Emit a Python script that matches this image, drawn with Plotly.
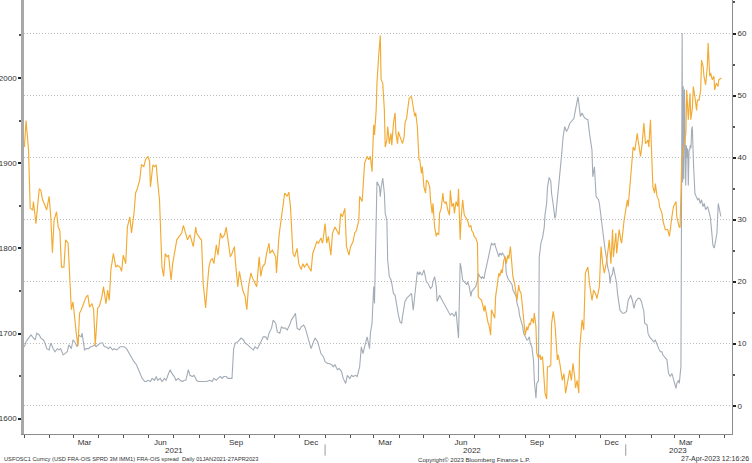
import pandas as pd
import plotly.graph_objects as go

START = pd.Timestamp("2021-01-01")

# gold (left axis) - day offset from 01JAN2021 and price
gold_day = [
    0, 2, 5, 7, 10, 11, 14, 15, 18, 20,
    22, 24, 27, 30, 32, 34, 36, 39, 41, 43,
    45, 48, 50, 53, 55, 57, 59, 61, 63, 65,
    67, 69, 72, 75, 77, 79, 82, 84, 86, 89,
    91, 94, 96, 99, 101, 103, 105, 108, 111, 113,
    116, 118, 120, 123, 125, 128, 130, 133, 135, 137,
    140, 142, 145, 147, 150, 152, 153, 156, 158, 160,
    162, 164, 167, 169, 171, 173, 175, 178, 180, 183,
    185, 188, 191, 193, 196, 198, 201, 203, 205, 208,
    209,
    213, 215, 217, 220, 222, 224, 226, 228, 230, 233,
    235, 238, 240, 243, 245, 247, 250, 252, 255, 256,
    259, 261, 264, 265, 268, 270, 272, 275, 277, 280,
    282, 285, 287, 289, 292, 294, 297, 298, 301, 303,
    305, 306, 309, 311, 314, 316, 319, 321, 323, 326,
    328, 331, 333, 336, 338, 340, 343, 345, 348, 350,
    352, 355, 357, 360, 362, 365, 367, 369, 372, 374,
    377, 379, 382, 384, 386, 389, 391, 394, 396, 399,
    401, 403, 406, 407, 410, 411, 413, 416, 418, 420,
    422, 424, 425, 427, 428, 430, 432,
    433, 435, 437, 438, 440, 441, 443, 445, 446, 448,
    450, 451, 453, 454, 456, 458, 459, 461, 462, 464,
    466, 467, 469, 470, 472, 474, 475, 477, 479, 480,
    482, 483, 485, 487, 488, 490, 492, 493, 495, 496,
    498, 500, 501, 503, 504, 506, 508, 509, 511, 512,
    514, 516, 517, 519, 521, 522, 524, 526, 527, 529,
    530, 532, 534, 535, 537, 538, 540, 542, 543, 545,
    546, 548, 550, 551, 553, 555, 556, 558, 559, 561,
    563, 564, 566, 567, 569, 571, 572, 574, 576, 577,
    579, 580, 582, 584, 585, 587, 588, 590, 592, 593,
    595, 597, 598, 600, 601, 603, 605, 606, 608, 610,
    611, 613, 614, 616, 618, 619, 621, 622, 624, 626,
    627, 629, 631, 632, 634, 635, 637, 639, 640, 642,
    644, 645, 647, 648, 650,
    653, 655, 657, 660, 662, 664, 666, 668, 669, 671,
    673, 674, 677, 679, 681, 684, 686, 689, 691, 694,
    695, 698, 700, 702, 704, 707, 709, 710, 712, 714,
    715, 718, 719, 722, 724, 725, 728, 730, 732, 733,
    735, 736, 739, 741, 744, 745, 748, 750, 752, 754,
    757, 758, 760, 761, 763, 765, 766, 768, 770, 771,
    774, 775, 778, 781, 783, 786, 788, 791, 792, 795,
    796, 798, 800, 801, 803, 804, 806, 808, 809, 811,
    812, 814, 816, 817, 819, 821, 822, 824, 825, 827,
    829, 830, 832, 833, 835, 837, 838, 840, 842, 843,
    846,
]
gold_px = [
    1919, 1950, 1915, 1847, 1845, 1855, 1829, 1841, 1870, 1868,
    1857, 1853, 1845, 1861, 1837, 1795, 1833, 1843, 1825, 1821,
    1778, 1778, 1810, 1806, 1767, 1728, 1737, 1716, 1700, 1685,
    1724, 1728, 1735, 1743, 1745, 1731, 1735, 1728, 1686, 1730,
    1732, 1743, 1755, 1735, 1751, 1739, 1775, 1794, 1778, 1780,
    1778, 1773, 1792, 1782, 1825, 1837, 1818, 1841, 1865, 1870,
    1880, 1898, 1896, 1904, 1908, 1902, 1872, 1898, 1896, 1898,
    1876, 1857, 1778, 1767, 1794, 1790, 1792, 1763, 1782, 1800,
    1810, 1814, 1818, 1827, 1818, 1810, 1816, 1810, 1802, 1825,
    1818,
    1812, 1810, 1759, 1730, 1755, 1778, 1786, 1788, 1782, 1804,
    1792, 1818, 1812, 1816, 1825, 1810, 1790, 1794, 1802, 1786,
    1755, 1773, 1755, 1751, 1743, 1728, 1755, 1771, 1765, 1759,
    1755, 1790, 1767, 1778, 1782, 1794, 1806, 1794, 1798, 1794,
    1790, 1771, 1814, 1829, 1849, 1865, 1861, 1866, 1849, 1794,
    1790, 1800, 1782, 1775, 1782, 1778, 1782, 1778, 1773, 1794,
    1800, 1808, 1806, 1812, 1806, 1829, 1806, 1814, 1792, 1818,
    1825, 1821, 1816, 1841, 1837, 1847, 1802, 1792, 1802, 1808,
    1818, 1821, 1833, 1861, 1855, 1870, 1900, 1908, 1904, 1908,
    1890, 1945, 1933, 1962, 1994, 2025, 2050,
    1998, 1994, 1962, 1919, 1927, 1943, 1923, 1935, 1921, 1947,
    1959, 1935, 1923, 1937, 1931, 1927, 1923, 1931, 1947, 1953,
    1966, 1976, 1978, 1978, 1966, 1955, 1959, 1943, 1904, 1904,
    1888, 1896, 1872, 1865, 1880, 1878, 1872, 1857, 1841, 1853,
    1825, 1814, 1818, 1816, 1841, 1847, 1865, 1855, 1853, 1855,
    1845, 1839, 1868, 1849, 1853, 1841, 1855, 1849, 1870, 1810,
    1833, 1857, 1839, 1837, 1835, 1833, 1825, 1827, 1821, 1818,
    1814, 1812, 1806, 1743, 1741, 1739, 1735, 1726, 1733, 1720,
    1712, 1710, 1698, 1728, 1722, 1718, 1743, 1755, 1771, 1767,
    1775, 1771, 1786, 1790, 1782, 1792, 1788, 1802, 1778, 1767,
    1759, 1747, 1739, 1757, 1751, 1747, 1726, 1724, 1698, 1708,
    1704, 1712, 1710, 1718, 1712, 1724, 1708, 1677, 1671, 1675,
    1669, 1673, 1649, 1630, 1623, 1661, 1661, 1663, 1712, 1726,
    1712, 1692, 1669, 1675, 1665,
    1645, 1653, 1630, 1649, 1657, 1645, 1665, 1649, 1636, 1645,
    1630, 1681, 1716, 1704, 1771, 1778, 1759, 1739, 1751, 1745,
    1741, 1755, 1802, 1782, 1771, 1786, 1802, 1810, 1782, 1822,
    1790, 1818, 1794, 1822, 1810, 1806, 1833, 1845, 1857, 1849,
    1872, 1880, 1919, 1915, 1935, 1927, 1908, 1923, 1947, 1923,
    1927, 1919, 1951, 1923, 1872, 1865, 1876, 1861, 1857, 1849,
    1841, 1833, 1822, 1822, 1814, 1837, 1849, 1855, 1837, 1825,
    1825, 1904, 1915, 1923, 1935, 1986, 1951, 1982, 1951, 1966,
    1990, 1978, 1962, 1974, 1974, 1986, 2021, 2013, 2002, 1992,
    2013, 2041, 2002, 2006, 1998, 2002, 1986, 1994, 1990, 1998,
    2000,
]

# FRA-OIS spread (right axis, bp)
fra_day = [
    0, 2, 5, 8, 11, 13, 15, 18, 20, 23,
    25, 27, 30, 32, 35, 37, 40, 42, 44, 47,
    49, 52, 54, 57, 59, 61, 64, 66, 69, 70,
    73, 75, 78, 80, 82, 85, 87, 90, 92, 95,
    97, 99, 102, 104, 107, 109, 112, 114, 116, 119,
    121, 124, 126, 129, 131, 133, 136, 138, 141, 143,
    146, 148, 150, 153, 155, 158, 160, 162, 165, 167,
    170, 172, 175, 177, 179, 182, 184, 187, 189, 192,
    194, 196, 199, 201, 204, 206, 209, 211, 213,
    217, 221, 225, 228, 230, 233, 235, 238, 240, 242,
    245, 247, 250, 252, 254, 256, 259, 261, 263, 266,
    268, 271, 273, 276, 278, 280, 283, 285, 288, 290,
    293, 295, 297, 300, 302, 305, 307, 310, 312, 314,
    317, 319, 322, 324, 327, 329, 331, 334, 336, 339,
    341, 344, 346, 348, 351, 353, 356, 358, 360, 363,
    365, 368, 370, 373, 375, 377, 380, 382, 385, 387,
    390, 392, 395, 397, 399, 402, 404, 407, 409, 411,
    414, 416, 419, 420, 422, 424, 425, 427, 428, 431,
    432, 433, 435, 437, 438, 440, 441, 443, 445, 446,
    448, 450, 451, 453, 454, 456, 458, 459, 461, 462,
    464, 466, 467, 469, 470, 472, 474, 475, 477, 479,
    480, 482, 483, 485, 487, 488, 490, 492, 493, 495,
    496, 498, 500, 501, 503, 504, 506, 508, 509, 511,
    512, 514, 516, 517, 519, 521, 522, 524, 526, 527,
    529, 530, 532, 534, 535, 537, 538, 540, 542, 543,
    545, 546, 548, 550, 551, 553, 555, 556, 558, 559,
    561, 563, 564, 566, 567, 569, 571, 572, 574, 576,
    577, 579, 580, 582, 584, 585, 587, 588, 590, 592,
    593, 595, 597, 598, 600, 601, 603, 605, 606, 608,
    610, 611, 613, 614, 616, 618, 619, 621, 622, 624,
    625, 626, 627, 629, 631, 632, 634, 635, 637, 639,
    640, 642, 644, 645, 647, 648, 650,
    652, 654, 656, 658, 660, 662, 664, 667, 669, 672,
    673, 675, 677, 679, 681, 684, 686, 689, 690, 692,
    694, 697, 698, 700, 702, 703, 705, 707, 708, 710,
    711, 712, 714, 715, 717, 719, 720, 722, 723, 726,
    728, 731, 733, 736, 738, 740, 742, 745, 747, 749,
    752, 753, 756, 757, 759, 762, 764, 766, 768, 770,
    772, 774, 775, 778, 780, 782, 784, 786, 789, 791,
    792, 794, 795, 797, 798.5, 799, 799.8, 800.5, 801.3, 802,
    802.8, 803.6, 804.4, 805.2, 806, 806.8, 807.6, 808.4, 809.2, 810,
    810.8, 812.4, 814, 815.6, 817.2, 818.9, 820.5, 822.1, 823.7, 825.3,
    826.9, 829.4, 831, 832.6, 834.2, 835.8, 837.5, 839.1, 840.7, 842.3,
    843.9, 845.5,
]
fra_bp = [
    9.5, 10.3, 10.9, 11.4, 10.9, 10.6, 11.7, 11.4, 10.9, 10.6,
    10.1, 9.2, 9.0, 10.1, 9.2, 8.7, 9.2, 9.0, 9.2, 8.2,
    8.4, 8.7, 9.8, 9.2, 10.6, 10.3, 9.5, 11.4, 11.1, 11.7,
    9.0, 9.2, 9.2, 9.5, 9.5, 9.8, 9.5, 9.8, 10.1, 10.1,
    9.5, 9.5, 9.2, 9.5, 9.0, 9.2, 9.0, 9.2, 9.5, 9.5,
    9.5, 9.2, 8.7, 8.2, 7.6, 7.1, 6.6, 6.0, 5.2, 4.4,
    3.9, 3.9, 4.1, 3.9, 4.4, 4.1, 4.7, 4.1, 4.4, 3.9,
    4.4, 4.1, 5.2, 5.8, 5.2, 4.7, 4.1, 4.4, 4.1, 3.9,
    4.1, 4.1, 5.8, 4.9, 4.7, 4.9, 4.1, 3.9, 3.9,
    3.9, 3.9, 4.1, 3.9, 4.4, 4.1, 4.4, 4.7, 4.4, 4.7,
    4.7, 4.4, 4.4, 4.4, 9.2, 10.1, 10.3, 10.6, 10.9, 10.6,
    10.1, 9.8, 9.5, 9.2, 9.0, 9.5, 9.2, 9.8, 10.6, 11.1,
    11.1, 10.6, 11.7, 12.5, 13.8, 13.3, 11.9, 11.7, 12.7, 12.5,
    12.5, 12.2, 13.0, 13.8, 14.4, 14.9, 12.5, 12.2, 12.7, 13.0,
    12.5, 11.1, 10.1, 9.2, 10.3, 10.9, 10.3, 9.2, 8.4, 7.9,
    7.1, 6.8, 6.8, 6.6, 6.3, 6.6, 5.8, 6.0, 5.5, 4.4,
    3.6, 4.9, 4.4, 4.9, 4.7, 4.9, 4.7, 6.3, 9.5, 8.4,
    10.1, 11.1, 9.2, 11.7, 13.3, 19.2, 16.5, 27.8, 36.1, 35.3,
    33.7, 35.1, 36.7, 34.2, 31.0, 29.9, 23.5, 20.8, 20.3, 19.7,
    18.1, 17.8, 16.8, 15.4, 14.6, 13.5, 13.3, 14.4, 16.0, 16.8,
    17.3, 17.6, 17.8, 18.1, 18.1, 15.4, 17.6, 19.2, 21.6, 21.1,
    21.6, 21.1, 21.1, 21.9, 20.5, 20.0, 19.7, 19.2, 18.9, 19.2,
    20.0, 20.8, 19.2, 16.8, 17.3, 17.8, 17.3, 16.8, 16.5, 16.0,
    15.7, 15.2, 14.9, 14.6, 14.9, 14.4, 14.4, 15.2, 12.7, 10.9,
    23.0, 22.4, 20.3, 20.0, 19.7, 19.5, 20.0, 19.2, 17.6, 18.4,
    18.7, 18.9, 19.2, 20.3, 21.3, 20.8, 20.5, 20.8, 20.5, 21.3,
    22.4, 23.5, 24.3, 25.4, 26.2, 25.9, 26.2, 25.6, 24.6, 24.0,
    24.6, 24.3, 24.6, 24.3, 23.5, 21.3, 20.5, 20.3, 20.0, 19.5,
    18.7, 18.1, 17.6, 16.5, 15.7, 14.6, 13.8, 12.7, 11.7, 11.1,
    10.6, 10.6, 11.1, 10.1, 9.5, 7.4, 4.1, 1.2, 3.6, 4.0,
    24.0, 25.0, 26.2, 27.1, 28.7, 30.8, 32.6, 35.2, 36.8, 36.2,
    34.2, 32.4, 30.2, 30.6, 33.2, 35.0, 36.5,
    40.2, 43.4, 45.0, 44.2, 44.7, 45.5, 45.8, 46.3, 47.7, 49.8,
    48.8, 46.6, 47.2, 46.6, 46.3, 46.1, 43.9, 41.2, 36.9, 38.5,
    33.7, 33.2, 32.6, 30.5, 28.3, 26.7, 25.1, 23.5, 22.4, 21.3,
    19.7, 20.8, 21.3, 22.4, 20.8, 19.7, 18.1, 16.5, 15.4, 14.9,
    14.9, 15.2, 17.0, 17.8, 17.0, 15.7, 16.8, 17.3, 17.3, 16.8,
    15.2, 13.3, 13.0, 11.7, 11.1, 10.6, 10.3, 10.6, 9.8, 9.2,
    8.7, 8.7, 8.2, 7.6, 7.4, 5.2, 4.7, 5.2, 3.6, 2.8,
    3.6, 4.1, 3.6, 6.3, 60.1, 36.0, 51.5, 36.5, 51.0, 40.0,
    35.5, 42.0, 40.0, 41.5, 35.5, 41.0, 41.2, 42.0, 41.5, 44.5,
    45.0, 38.5, 34.2, 33.7, 33.2, 33.4, 32.6, 33.2, 32.1, 32.6,
    31.6, 32.1, 31.0, 30.5, 28.3, 25.9, 25.4, 26.7, 27.8, 32.6,
    31.3, 30.5,
]

assert len(gold_day) == len(gold_px), (len(gold_day), len(gold_px))
assert len(fra_day) == len(fra_bp), (len(fra_day), len(fra_bp))

# x-axis labels (mid-month) and year labels
month_ticks = ["2021-03-15", "2021-06-15", "2021-09-15", "2021-12-15",
               "2022-03-15", "2022-06-15", "2022-09-15", "2022-12-15",
               "2023-03-15"]
month_text = ["Mar", "Jun", "Sep", "Dec", "Mar", "Jun", "Sep", "Dec", "Mar"]
year_pos = ["2021-07-01", "2022-06-28", "2023-03-05"]
year_text = ["2021", "2022", "2023"]
year_breaks = ["2022-01-01", "2023-01-01"]

gold_dates = START + pd.to_timedelta(gold_day, unit="D")
fra_dates = START + pd.to_timedelta(fra_day, unit="D")

FONT = "Liberation Sans"
TXT = "#333333"

fig = go.Figure()
fig.add_trace(go.Scatter(x=fra_dates, y=fra_bp, mode="lines", yaxis="y",
                         line=dict(color="#a3acb6", width=1.1),
                         name="FRA-OIS spread"))
fig.add_trace(go.Scatter(x=gold_dates, y=gold_px, mode="lines", yaxis="y2",
                         line=dict(color="#f2aa32", width=1.15),
                         name="Gold"))

# year labels, separators and footer
for pos, txt in zip(year_pos, year_text):
    fig.add_annotation(x=pos, y=-0.038, xref="x", yref="paper", text=txt,
                       showarrow=False, yanchor="middle",
                       font=dict(family=FONT, size=8, color=TXT))
for d in year_breaks:
    fig.add_shape(type="line", xref="x", yref="paper", x0=d, x1=d,
                  y0=-0.024, y1=-0.05, line=dict(color="#9a9a9a", width=1))

fig.add_annotation(x=-0.031, y=-0.058, xref="paper", yref="paper",
                   xanchor="left", yanchor="middle", showarrow=False,
                   font=dict(family=FONT, size=5.7, color=TXT),
                   text="USFOSC1 Curncy (USD FRA-OIS SPRD 3M IMM1) FRA-OIS spread  Daily 01JAN2021-27APR2023")
fig.add_annotation(x=0.636, y=-0.058, xref="paper", yref="paper",
                   xanchor="center", yanchor="middle", showarrow=False,
                   font=dict(family=FONT, size=6.1, color=TXT),
                   text="Copyright© 2023 Bloomberg Finance L.P.")
fig.add_annotation(x=1.027, y=-0.058, xref="paper", yref="paper",
                   xanchor="right", yanchor="middle", showarrow=False,
                   font=dict(family=FONT, size=7, color=TXT),
                   text="27-Apr-2023 12:16:26")

fig.update_layout(
    width=752, height=463,
    margin=dict(l=24, r=20, t=0, b=29),
    paper_bgcolor="white", plot_bgcolor="white",
    showlegend=False,
    font=dict(family=FONT, size=8, color=TXT),
    xaxis=dict(
        type="date", range=["2020-12-31 12:00", "2023-05-10"],
        tickmode="array", tickvals=month_ticks, ticktext=month_text,
        ticks="", showgrid=False, zeroline=False,
        showline=True, linecolor="#8c8c8c", linewidth=1,
        tickfont=dict(family=FONT, size=8, color=TXT),
        minor=dict(ticks="outside", ticklen=3, tickcolor="#555555",
                   dtick="M1", tick0="2021-01-01", showgrid=False),
    ),
    yaxis=dict(
        side="right", range=[-4.56, 65.4], dtick=10, tick0=0,
        showgrid=True, gridcolor="#bdbdbd", griddash="1px,2px", gridwidth=1,
        zeroline=False, showline=True, linecolor="#8c8c8c", linewidth=1,
        ticks="outside", ticklen=3, tickwidth=1.5, tickcolor="#222222",
        tickfont=dict(family=FONT, size=8, color=TXT),
        minor=dict(ticks="outside", ticklen=2, dtick=5, tick0=0,
                   tickcolor="#555555", showgrid=False),
    ),
    yaxis2=dict(
        side="left", overlaying="y", range=[1582, 2091.6], dtick=100, tick0=1600,
        showgrid=False, zeroline=False,
        showline=True, linecolor="#a8a8a8", linewidth=2.5,
        ticks="outside", ticklen=3, tickwidth=1.5, tickcolor="#222222",
        tickfont=dict(family=FONT, size=8, color=TXT),
        minor=dict(ticks="outside", ticklen=2, dtick=50, tick0=1600,
                   tickcolor="#555555", showgrid=False),
    ),
)

# drop the default page margin so the figure sits at the window's top-left corner
fig.write_html("out.html", config={"displayModeBar": False},
               post_script="document.body.style.margin='0';")
